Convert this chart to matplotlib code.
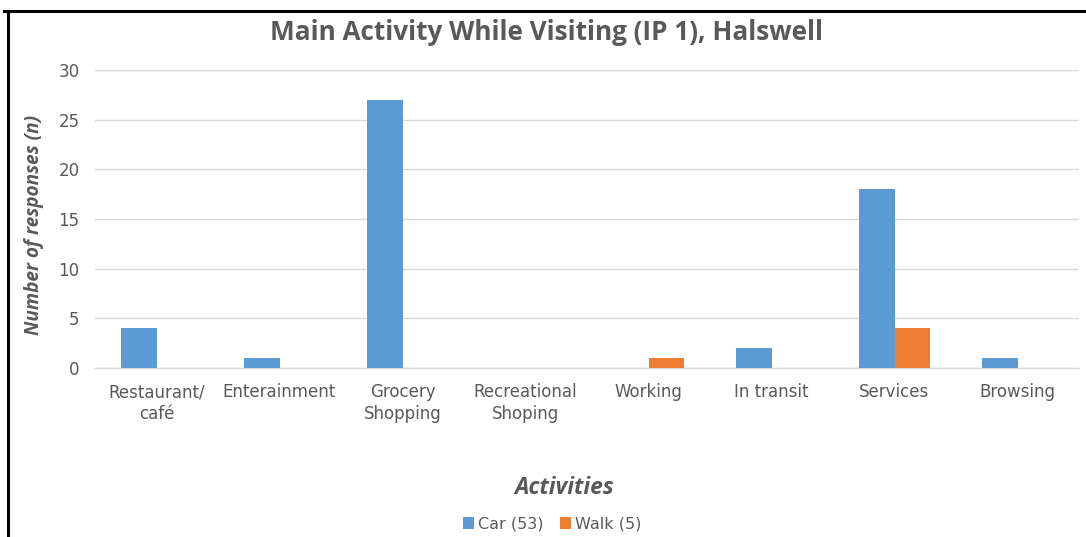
import matplotlib
matplotlib.use("Agg")
import matplotlib.pyplot as plt
from matplotlib.lines import Line2D
import numpy as np

categories = ["Restaurant/\ncafé", "Enterainment", "Grocery\nShopping", "Recreational\nShoping",
              "Working", "In transit", "Services", "Browsing"]
car = [4, 1, 27, 0, 0, 2, 18, 1]
walk = [0, 0, 0, 0, 1, 0, 4, 0]
yticks = [0, 5, 10, 15, 20, 25, 30]

W, H = 1086, 537
fig = plt.figure(figsize=(W / 100, H / 100), dpi=100)
fig.patch.set_facecolor("white")

# axes placement in pixel terms
left, right, bottom, top = 95, 1079, 368, 70
ax = fig.add_axes([left / W, 1 - bottom / H, (right - left) / W, (bottom - top) / H])

x = np.arange(len(categories))
bw = 0.29
ax.bar(x - bw / 2, car, width=bw, color="#5b9bd5", label="Car (53)", zorder=3)
ax.bar(x + bw / 2, walk, width=bw, color="#ed7d31", label="Walk (5)", zorder=3)

ax.set_xlim(-0.5, len(categories) - 0.5)
ax.set_ylim(0, 30)
ax.set_yticks(yticks)
ax.set_xticks(x)
ax.set_xticklabels(categories, fontsize=12, color="#595959", linespacing=1.3, family="DejaVu Sans")
for t in ax.get_yticklabels():
    t.set_family("DejaVu Sans")
ax.tick_params(axis="y", labelsize=12, labelcolor="#595959", length=0, pad=11)
ax.tick_params(axis="x", length=0, pad=11)
ax.grid(axis="y", color="#d9d9d9", linewidth=1, zorder=0)
for s in ["top", "right", "left"]:
    ax.spines[s].set_visible(False)
ax.spines["bottom"].set_color("#d9d9d9")
ax.spines["bottom"].set_linewidth(1)
ax.set_facecolor("white")

ax.set_ylabel("Number of responses (n)", fontsize=13.7, fontstyle="italic", fontweight="bold",
              color="#595959", family="Open Sans")
ax.yaxis.set_label_coords(-51 / (right - left), (368 - 225) / (bottom - top))

fig.text(547 / W, 1 - 32.5 / H, "Main Activity While Visiting (IP 1), Halswell", ha="center", va="center",
         fontsize=18.8, fontweight="bold", color="#595959", family="Open Sans")
fig.text(564 / W, 1 - 488 / H, "Activities", ha="center", va="center",
         fontsize=16.5, fontweight="bold", fontstyle="italic", color="#595959", family="Open Sans")

leg = fig.legend(loc="center", bbox_to_anchor=(552 / W, 1 - 524 / H), ncol=2, frameon=False,
                 prop={"family": "DejaVu Sans", "size": 11.5},
                 handlelength=0.7, handleheight=0.7, handletextpad=0.25, columnspacing=1.0)
for t in leg.get_texts():
    t.set_color("#595959")

# outer frame lines (top and left)
fig.add_artist(Line2D([4 / W, 1.0], [1 - 11 / H, 1 - 11 / H], color="black", linewidth=2.2,
                      transform=fig.transFigure))
fig.add_artist(Line2D([8 / W, 8 / W], [1 - 11 / H, 0.0], color="black", linewidth=2.2,
                      transform=fig.transFigure))

fig.savefig("out.png", dpi=100, facecolor="white")
